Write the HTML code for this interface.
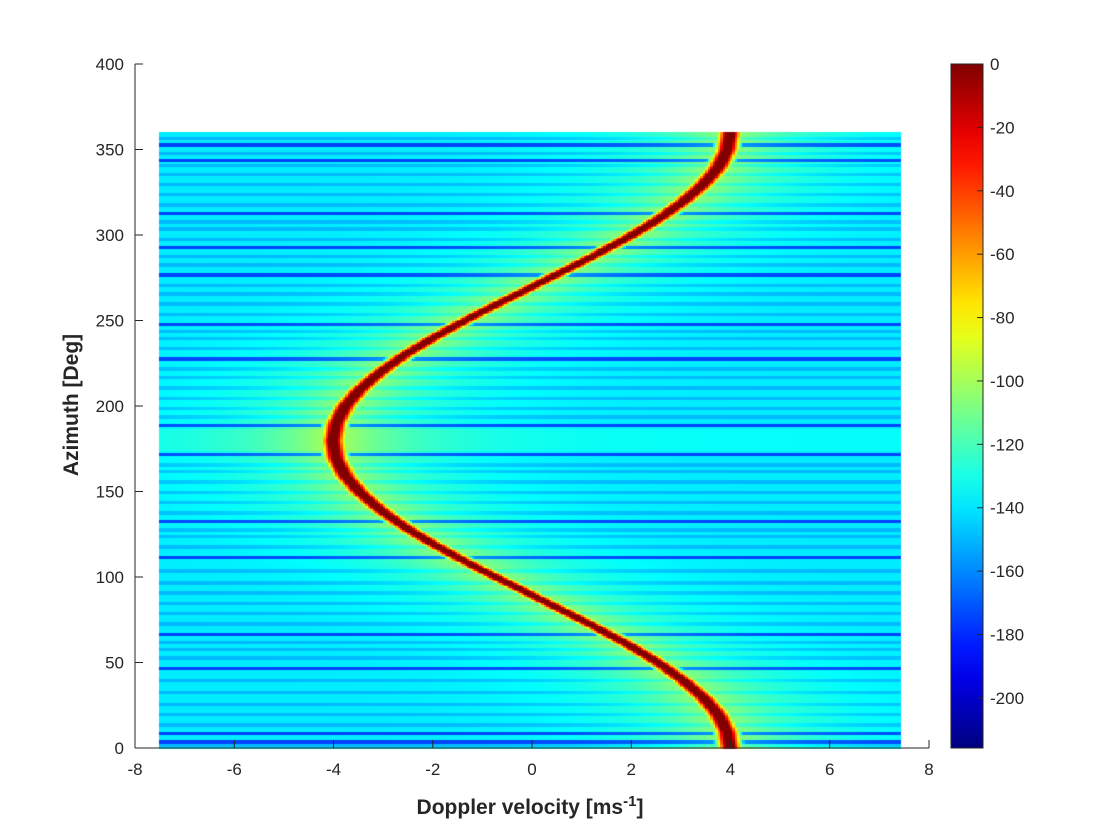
<!DOCTYPE html>
<html><head><meta charset="utf-8">
<style>
body{margin:0;background:#fff;width:1120px;height:840px;overflow:hidden;font-family:"Liberation Sans",Arial,sans-serif}
#wrap{position:relative;width:1120px;height:840px}
canvas{position:absolute;left:0;top:0}
svg{position:absolute;left:0;top:0}
</style></head>
<body>
<div id="wrap">
<canvas id="hm" width="1120" height="840"></canvas>
<svg id="ax" width="1120" height="840"></svg>
</div>
<script>
// ---- data ----
const peakAzimuths = [0,10,20,30,40,50,60,70,80,90,100,110,120,130,140,150,160,170,180,190,200,210,220,230,240,250,260,270,280,290,300,310,320,330,340,350,360];
const peakVelocities = [4.0,3.94,3.76,3.46,3.06,2.57,2.0,1.37,0.69,0.0,-0.69,-1.37,-2.0,-2.57,-3.06,-3.46,-3.76,-3.94,-4.0,-3.94,-3.76,-3.46,-3.06,-2.57,-2.0,-1.37,-0.69,0.0,0.69,1.37,2.0,2.57,3.06,3.46,3.76,3.94,4.0];
const darkStripes = [4,9,47,67,112,133,172,189,228,248,277,293,313,344,353];
const mediumStripes = [2,14,20,26,33,40,53,58,62,73,79,85,91,97,104,118,124,128,138,144,150,156,162,166,194,199,205,211,217,222,234,240,244,254,260,266,271,283,288,298,304,308,318,324,330,336,341,348,357];
const xTicks = [-8,-6,-4,-2,0,2,4,6,8];
const yTicks = [0,50,100,150,200,250,300,350,400];
const cbTicks = [0,-20,-40,-60,-80,-100,-120,-140,-160,-180,-200];

// ---- scales ----
const X0=135,X1=929,Y0=748,Y1=64;
const xs=v=>X0+(v+8)/16*(X1-X0);
const ys=a=>Y0-a/400*(Y0-Y1);
const CMIN=-215.8,CMAX=0;
const cbY=d=>Y1+(CMAX-d)/(CMAX-CMIN)*(Y0-Y1);
function jet(t){t=Math.max(0,Math.min(1,t));const c=x=>Math.max(0,Math.min(1,x));
 return [c(1.5-Math.abs(4*t-3)),c(1.5-Math.abs(4*t-2)),c(1.5-Math.abs(4*t-1))].map(x=>Math.round(x*255));}
function peakAt(a){for(let i=0;i<peakAzimuths.length-1;i++){if(a<=peakAzimuths[i+1]){const f=(a-peakAzimuths[i])/(peakAzimuths[i+1]-peakAzimuths[i]);return peakVelocities[i]+f*(peakVelocities[i+1]-peakVelocities[i]);}}return peakVelocities[peakVelocities.length-1];}
function rowBase(a){for(const s of darkStripes) if(Math.abs(a-s)<0.6) return -175;
 for(const s of mediumStripes) if(Math.abs(a-s)<0.6) return -150; return -139;}

// ---- heatmap ----
const ctx=document.getElementById('hm').getContext('2d');
const vMin=-7.5,vMax=7.4,dv=0.05,da=1;
for(let a=0;a<360;a+=da){
 const ac=a+da/2,pv=peakAt(ac),base=rowBase(ac);
 const near=(ac>174&&ac<187)?5:0;
 for(let v=vMin;v<vMax;v+=dv){
  const d=Math.abs(v+dv/2-pv);
  let val=base+near+(base<-160?22:38)*Math.exp(-d/1.5);
  const pk=-700*Math.max(0,d-0.09);
  val=Math.max(val,pk);
  const [r,g,b]=jet((val-CMIN)/(CMAX-CMIN));
  ctx.fillStyle=`rgb(${r},${g},${b})`;
  const x0=xs(v),x1=xs(Math.min(v+dv,vMax)),y0=ys(a+da),y1=ys(a);
  ctx.fillRect(Math.floor(x0),Math.floor(y0),Math.ceil(x1-x0)+1,Math.ceil(y1-y0)+1);
 }
}

// ---- axes ----
const svg=document.getElementById('ax');const NS='http://www.w3.org/2000/svg';
function mk(tag,attrs,parent){const e=document.createElementNS(NS,tag);for(const k in attrs)e.setAttribute(k,attrs[k]);(parent||svg).appendChild(e);return e;}
let e;
e=mk('line',{x1:X0,y1:Y0,x2:X1,y2:Y0,stroke:'#262626','stroke-width':1});


e=mk('line',{x1:X0,y1:Y0,x2:X0,y2:Y1,stroke:'#262626','stroke-width':1});


xTicks.forEach(t=>{const x=xs(t);
 e=mk('line',{x1:x,y1:Y0,x2:x,y2:Y0-8,stroke:'#262626'});
 
 
 e=mk('text',{x:x,y:Y0+27,'text-anchor':'middle','font-size':17,fill:'#262626'});e.textContent=t;
 
 
});
yTicks.forEach(t=>{const y=ys(t);
 e=mk('line',{x1:X0,y1:y,x2:X0+8,y2:y,stroke:'#262626'});
 
 
 e=mk('text',{x:X0-11,y:y+6,'text-anchor':'end','font-size':17,fill:'#262626'});e.textContent=t;
 
 
});
e=mk('text',{x:530,y:814,'text-anchor':'middle','font-size':21,'font-weight':'bold',fill:'#262626'});
e.innerHTML='Doppler velocity [ms<tspan dy="-8" font-size="15">-1</tspan><tspan dy="8">]</tspan>';


e=mk('text',{x:0,y:0,'text-anchor':'middle','font-size':21,'font-weight':'bold',fill:'#262626',transform:'translate(78,405) rotate(-90)'});
e.textContent='Azimuth [Deg]';



// colorbar
const defs=mk('defs',{});const lg=mk('linearGradient',{id:'jetg',x1:0,y1:1,x2:0,y2:0},defs);
for(let i=0;i<=20;i++){const [r,g,b]=jet(i/20);mk('stop',{offset:i/20,'stop-color':`rgb(${r},${g},${b})`},lg);}
e=mk('rect',{x:951,y:Y1,width:32,height:Y0-Y1,fill:'url(#jetg)',stroke:'#262626','stroke-width':1});


cbTicks.forEach(t=>{const y=cbY(t);
 e=mk('line',{x1:977,y1:y,x2:983,y2:y,stroke:'#262626'});
 
 
 e=mk('text',{x:990,y:y+6,'font-size':17,fill:'#262626'});e.textContent=t;
 
 
});
</script>
</body></html>
